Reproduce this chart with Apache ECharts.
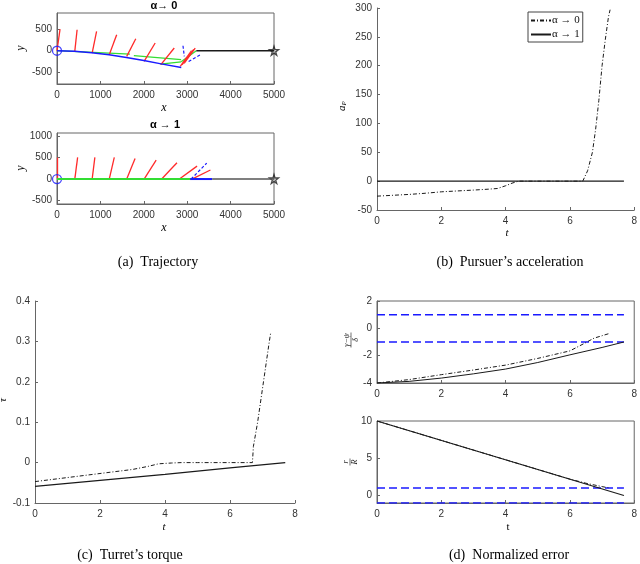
<!DOCTYPE html>
<html>
<head>
<meta charset="utf-8">
<script src="https://cdn.jsdelivr.net/npm/echarts@6/dist/echarts.min.js"></script>
<style>
  html, body { margin: 0; padding: 0; background: #fff; }
  #chart { width: 640px; height: 564px; }
</style>
</head>
<body>
<div id="chart"></div>
<script>
// ── (a) trajectory, alpha -> 0 ──
var topBlue = [[0, 0], [400, -15], [800, -50], [1200, -95], [1600, -160], [2000, -230], [2400, -310], [2863, -394]];
var topGreen = [
  [[0, 0], [1680, -78]],
  [[1770, -118], [2860, -212]],
  [[2380, -314], [2860, -262]],
  [[2860, -262], [3210, 0]]
];
var topRed = [
  [[0, 0], [70, 510]],
  [[410, -16], [463, 495]],
  [[810, -55], [912, 455]],
  [[1204, -94], [1375, 377]],
  [[1606, -134], [1815, 283]],
  [[2007, -252], [2262, 182]],
  [[2393, -330], [2702, 64]],
  [[2840, -370], [3100, 0]],
  [[2880, -335], [3150, 30]],
  [[2930, -300], [3185, 60]]
];
var topBlueDash = [
  [[2903, 118], [2933, -134]],
  [[3033, -252], [3303, -94]]
];
var topBlack = [[3210, 0], [5000, 0]];

// ── (a) trajectory, alpha -> 1 ──
var botGreen = [[0, 0], [3400, 0]];
var botBlue = [[3070, 0], [3575, 0]];
var botRed = [
  [[0, 0], [0, 502]],
  [[410, 0], [475, 505]],
  [[810, 0], [873, 502]],
  [[1204, 0], [1320, 502]],
  [[1606, 0], [1799, 477]],
  [[2007, 0], [2285, 440]],
  [[2412, 0], [2764, 380]],
  [[2820, 0], [3227, 300]],
  [[3110, 0], [3535, 210]]
];
var botBlueDash = [[[3090, 0], [3450, 370]]];
var botBlack = [[3575, 0], [5000, 0]];
var startPt = [[0, 0]];
var goalPt = [[5000, 0]];

// ── (b) pursuer's acceleration ──
var accel0 = [[0, -26], [0.5, -24.5], [1, -23], [1.5, -21], [2, -18.5], [2.5, -17], [3, -15.5], [3.5, -13.8],
  [3.75, -12.7], [4, -8], [4.2, -3.5], [4.4, 0], [5, 0], [5.5, 0], [6, 0], [6.4, 0], [6.55, 18], [6.7, 50],
  [6.8, 90], [6.9, 140], [7.0, 200], [7.1, 245], [7.2, 285], [7.25, 297]];
var accel1 = [[0, 0], [7.68, 0]];

// ── (c) turret's torque ──
var torque0 = [[0, -0.047], [1, -0.037], [2, -0.027], [3, -0.017], [3.5, -0.009], [3.8, -0.003], [4.2, -0.001],
  [4.5, 0], [5, 0], [6, 0], [6.69, 0], [6.72, 0.04], [6.85, 0.1], [7.03, 0.2], [7.21, 0.3], [7.25, 0.32]];
var torque1 = [[0, -0.059], [2, -0.044], [4, -0.029], [6, -0.013], [7.7, 0]];

// ── (d) normalized error ──
var angErr0 = [[0, -4], [1, -3.75], [2, -3.39], [3, -3.05], [4, -2.69], [5, -2.2], [6, -1.65], [6.45, -1.1], [6.75, -0.72], [7.25, -0.36]];
var angErr1 = [[0, -4], [1, -3.88], [2, -3.64], [3, -3.33], [4, -2.98], [5, -2.5], [6, -1.94], [7, -1.4], [7.68, -1.0]];
var rngErr0 = [[0, 10], [6, 2.2], [6.5, 1.65], [7, 1.2], [7.25, 1.0]];
var rngErr1 = [[0, 10], [7.68, 0]];
var boundHi = [[0, 1], [7.68, 1]];
var boundLo = [[0, -1], [7.68, -1]];

var legendNames = ['α → 0', 'α → 1'];
var trajTicksTop = [-500, 0, 500];
var trajTicksBot = [-500, 0, 500, 1000];
var errTicksBot = [0, 5, 10];

var red = '#ff2a2a', green = '#33dd33', blue = '#1a1aff', black = '#1a1a1a';
var axisCol = '#666', textCol = '#333';
var dashDot = [4, 2, 1, 2];
var sans = 'Liberation Sans, Arial, sans-serif';
var serif = 'Liberation Serif, DejaVu Serif, serif';

function fmt(v) { return String(+v.toFixed(6)); }

function xAx(gi, min, max, interval) {
  return {
    type: 'value', gridIndex: gi, min: min, max: max, interval: interval,
    axisLine: { show: true, onZero: false, lineStyle: { color: axisCol, width: 1 } },
    axisTick: { show: true, inside: true, length: 3, lineStyle: { color: axisCol } },
    axisLabel: { color: textCol, fontSize: 10, fontFamily: sans, margin: 6, formatter: fmt },
    splitLine: { show: false }
  };
}
function yAx(gi, min, max, interval, custom) {
  var a = {
    type: 'value', gridIndex: gi, min: min, max: max,
    axisLine: { show: true, onZero: false, lineStyle: { color: axisCol, width: 1 } },
    axisTick: { show: true, inside: true, length: 3, lineStyle: { color: axisCol } },
    axisLabel: { color: textCol, fontSize: 10, fontFamily: sans, margin: 5, formatter: fmt },
    splitLine: { show: false }
  };
  if (custom) {
    a.axisTick.customValues = custom;
    a.axisLabel.customValues = custom;
  } else {
    a.interval = interval;
  }
  return a;
}
function segs(list, gi, color, width, type, name) {
  return {
    name: name, type: 'lines', coordinateSystem: 'cartesian2d', xAxisIndex: gi, yAxisIndex: gi,
    data: list.map(function(s) { return { coords: s }; }),
    lineStyle: { color: color, width: width, type: type || 'solid', opacity: 1, curveness: 0 },
    silent: true
  };
}
function path(data, gi, color, width, type, name) {
  return {
    name: name, type: 'line', xAxisIndex: gi, yAxisIndex: gi, data: data,
    symbol: 'none', lineStyle: { color: color, width: width, type: type || 'solid' },
    itemStyle: { color: color }, silent: true
  };
}
function marker(data, gi, symbol, size, color) {
  return {
    type: 'scatter', xAxisIndex: gi, yAxisIndex: gi, data: data, symbol: symbol, symbolSize: size,
    clip: false, silent: true,
    itemStyle: { color: 'transparent', borderColor: color, borderWidth: 1.3 }
  };
}
var starPath = 'path://M50,0 L61,35 L98,35 L68,57 L79,91 L50,70 L21,91 L32,57 L2,35 L39,35 Z';

function txt(x, y, s, font, opts) {
  opts = opts || {};
  return {
    type: 'text', x: x, y: y, rotation: opts.rot || 0, silent: true,
    style: {
      text: s, font: font, fill: opts.fill || '#000', align: 'center', verticalAlign: 'middle',
      rich: opts.rich
    }
  };
}
function frac(x, y, num, den, w) {
  return {
    type: 'group', x: x, y: y, rotation: Math.PI / 2, silent: true,
    children: [
      { type: 'text', x: 0, y: -0.5, style: { text: num, font: 'italic 8px ' + serif, fill: '#222', align: 'center', verticalAlign: 'bottom' } },
      { type: 'line', shape: { x1: -w / 2, y1: 0, x2: w / 2, y2: 0 }, style: { stroke: '#333', lineWidth: 0.7 } },
      { type: 'text', x: 0, y: 0.5, style: { text: den, font: 'italic 8px ' + serif, fill: '#222', align: 'center', verticalAlign: 'top' } }
    ]
  };
}

var chart = echarts.init(document.getElementById('chart'), null, { renderer: 'canvas' });
chart.setOption({
  animation: false,
  backgroundColor: '#fff',
  grid: [
    { left: 57, top: 13, width: 217, height: 71, show: true, borderColor: axisCol, borderWidth: 1 },
    { left: 57, top: 133, width: 217, height: 71, show: true, borderColor: axisCol, borderWidth: 1 },
    { left: 377, top: 8, width: 261, height: 202 },
    { left: 35, top: 301, width: 260, height: 202 },
    { left: 377, top: 301, width: 260, height: 82, show: true, borderColor: axisCol, borderWidth: 1 },
    { left: 377, top: 421, width: 260, height: 82, show: true, borderColor: axisCol, borderWidth: 1 }
  ],
  xAxis: [
    xAx(0, 0, 5000, 1000),
    xAx(1, 0, 5000, 1000),
    xAx(2, 0, 8, 2),
    xAx(3, 0, 8, 2),
    xAx(4, 0, 8, 2),
    xAx(5, 0, 8, 2)
  ],
  yAxis: [
    yAx(0, -785, 890, null, trajTicksTop),
    yAx(1, -580, 1070, null, trajTicksBot),
    yAx(2, -50, 300, 50),
    yAx(3, -0.1, 0.4, 0.1),
    yAx(4, -4, 2, 2),
    yAx(5, -1, 10, null, errTicksBot)
  ],
  legend: {
    data: legendNames, orient: 'vertical', left: 528, top: 12,
    itemWidth: 20, itemHeight: 8, itemGap: 3, padding: [3, 3, 2, 2],
    borderColor: '#444', borderWidth: 1, backgroundColor: '#fff',
    itemStyle: { opacity: 0 },
    textStyle: { fontFamily: serif, fontSize: 11, color: '#111', padding: [0, 0, 0, -4] },
    selectedMode: false
  },
  series: [
    // (a) top
    path(topBlue, 0, blue, 1.5),
    segs(topGreen, 0, green, 1.3),
    segs(topRed, 0, red, 1.3),
    segs(topBlueDash, 0, blue, 1.2, [3, 2]),
    path(topBlack, 0, black, 1.3),
    marker(startPt, 0, 'circle', 9, blue),
    marker(goalPt, 0, starPath, 9, black),
    // (a) bottom
    path(botGreen, 1, green, 2),
    path(botBlue, 1, blue, 2),
    segs(botRed, 1, red, 1.3),
    segs(botBlueDash, 1, blue, 1.2, [3, 2]),
    path(botBlack, 1, '#555', 1.6),
    marker(startPt, 1, 'circle', 9, blue),
    marker(goalPt, 1, starPath, 9, black),
    // (b)
    path(accel0, 2, black, 1, dashDot, legendNames[0]),
    path(accel1, 2, black, 1.2, 'solid', legendNames[1]),
    // (c)
    path(torque0, 3, black, 1, dashDot, 'c0'),
    path(torque1, 3, black, 1.2, 'solid', 'c1'),
    // (d) top
    path(boundHi, 4, blue, 1.5, [8, 4], 'dh'),
    path(boundLo, 4, blue, 1.5, [8, 4], 'dl'),
    path(angErr0, 4, black, 1, dashDot, 'd0'),
    path(angErr1, 4, black, 1, 'solid', 'd1'),
    // (d) bottom
    path(boundHi, 5, blue, 1.5, [8, 4], 'eh'),
    path(boundLo, 5, blue, 1.5, [8, 4], 'el'),
    path(rngErr0, 5, black, 1, dashDot, 'e0'),
    path(rngErr1, 5, black, 1.2, 'solid', 'e1')
  ],
  graphic: [
    txt(164, 6, 'α→ 0', 'bold 11px ' + sans),
    txt(165, 125, 'α → 1', 'bold 11px ' + sans),
    txt(164, 108, 'x', 'italic 12px ' + serif),
    txt(164, 228, 'x', 'italic 12px ' + serif),
    txt(21, 48, 'y', 'italic 12px ' + serif, { rot: Math.PI / 2 }),
    txt(21, 168, 'y', 'italic 12px ' + serif, { rot: Math.PI / 2 }),
    txt(507, 233, 't', 'italic 11px ' + serif),
    txt(342, 106, 'a{s|P}', 'italic 11px ' + serif, { rot: Math.PI / 2, rich: { s: { font: 'italic 7px ' + serif, verticalAlign: 'bottom', padding: [4, 0, 0, 0] } } }),
    txt(164, 527, 't', 'italic 11px ' + serif),
    txt(3, 400, 'τ', 'italic 11px ' + serif, { rot: Math.PI / 2 }),
    txt(508, 527, 't', '11px ' + serif),
    frac(351, 340, 'γ−ψ', 'δ', 15),
    frac(350, 462, 'r', 'R', 7),
    txt(158, 262, '(a)  Trajectory', '14px ' + serif),
    txt(510, 262, '(b)  Pursuer’s acceleration', '14px ' + serif),
    txt(130, 555, '(c)  Turret’s torque', '14px ' + serif),
    txt(509, 555, '(d)  Normalized error', '14px ' + serif)
  ]
});
</script>
</body>
</html>
